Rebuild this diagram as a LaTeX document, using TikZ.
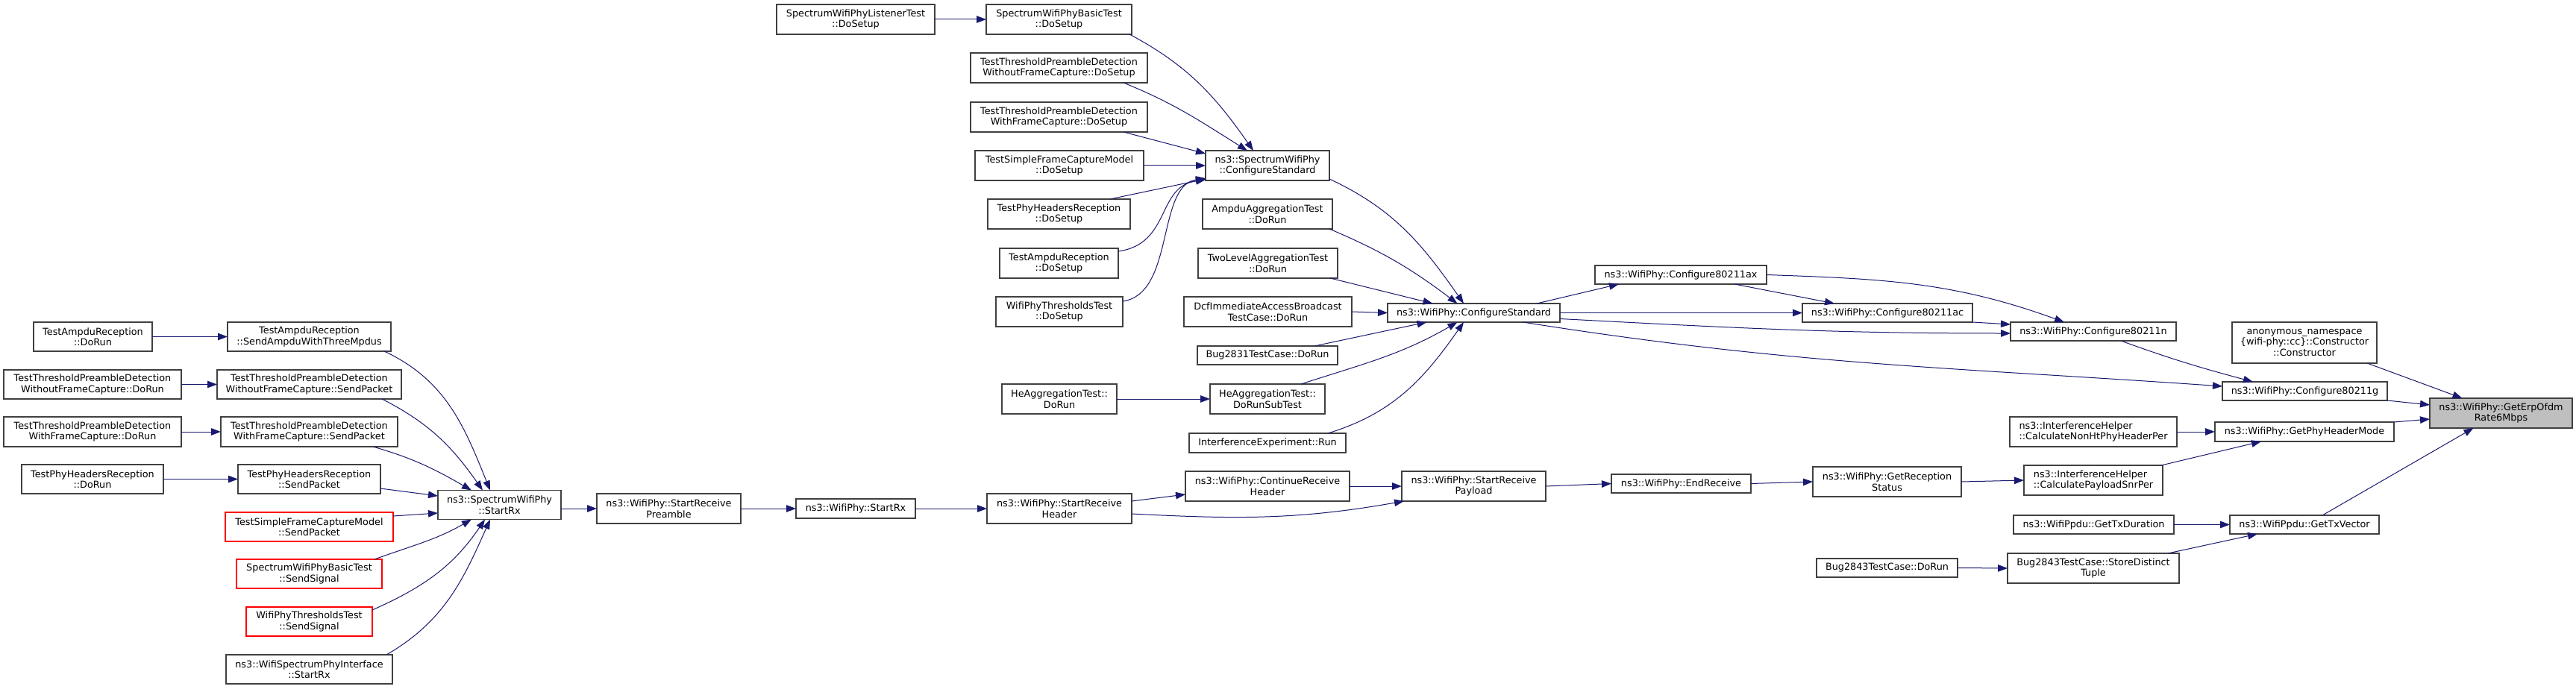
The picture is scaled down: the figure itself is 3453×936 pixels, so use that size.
\documentclass[tikz,border=0pt]{standalone}
\usepackage{fontspec}
\setmainfont{DejaVu Sans}
\usepackage{xcolor}
\definecolor{EdgeBlue}{HTML}{191970}
\definecolor{BoxGray}{HTML}{404040}
\definecolor{BoxRed}{HTML}{FF0000}
\definecolor{RootFill}{HTML}{BFBFBF}
\usepackage{tikz}
\usetikzlibrary{arrows.meta}

\tikzset{
  fn/.style={draw=BoxGray, line width=1.3pt, fill=white, inner sep=0pt, outer sep=0pt,
    align=center, text=black, font=\fontsize{12.8}{14.5}\selectfont},
  fnred/.style={fn, draw=BoxRed},
  fnroot/.style={fn, fill=RootFill},
  wh/.style 2 args={minimum width=#1pt, minimum height=#2pt},
  callarrow/.style={draw=EdgeBlue, line width=1pt, -{Triangle[length=13pt,width=9.5pt]}}
}

\begin{document}
\begin{tikzpicture}[x=1pt,y=1pt]
  \fill[white] (0,0) rectangle (3453,-936);
  \useasboundingbox (0,0) rectangle (3453,-936);

  % callers of SpectrumWifiPhy::StartRx
  \node[fn, wh={159}{39}] (tarDoRun) at (124.5,-451.5) {TestAmpduReception\\::DoRun};
  \node[fn, wh={238}{39}] (ttpdwoDoRun) at (124,-515.5) {TestThresholdPreambleDetection\\WithoutFrameCapture::DoRun};
  \node[fn, wh={238}{40}] (ttpdwDoRun) at (124,-579) {TestThresholdPreambleDetection\\WithFrameCapture::DoRun};
  \node[fn, wh={190}{39}] (tphrDoRun) at (124,-642.5) {TestPhyHeadersReception\\::DoRun};

  \node[fn, wh={219}{39}] (tarSend) at (414.5,-451.5) {TestAmpduReception\\::SendAmpduWithThreeMpdus};
  \node[fn, wh={247}{39}] (ttpdwoSend) at (414.5,-515.5) {TestThresholdPreambleDetection\\WithoutFrameCapture::SendPacket};
  \node[fn, wh={237}{40}] (ttpdwSend) at (414.5,-579) {TestThresholdPreambleDetection\\WithFrameCapture::SendPacket};
  \node[fn, wh={191}{39}] (tphrSend) at (414.5,-642.5) {TestPhyHeadersReception\\::SendPacket};
  \node[fnred, wh={225}{39}] (tsfcmSend) at (414.5,-706.5) {TestSimpleFrameCaptureModel\\::SendPacket};
  \node[fnred, wh={195}{39}] (swpbtSend) at (414.5,-769.5) {SpectrumWifiPhyBasicTest\\::SendSignal};
  \node[fnred, wh={169}{39}] (wpttSend) at (414.5,-833.5) {WifiPhyThresholdsTest\\::SendSignal};
  \node[fn, wh={223}{39}] (wspiStartRx) at (414.5,-897.5) {ns3::WifiSpectrumPhyInterface\\::StartRx};

  % receive chain
  \node[fn, wh={165}{39}] (swpStartRx) at (669.5,-677) {ns3::SpectrumWifiPhy\\::StartRx};
  \node[fn, wh={193}{40}] (rxPreamble) at (896.5,-682) {ns3::WifiPhy::StartReceive\\Preamble};
  \node[fn, wh={160}{26}] (wpStartRx) at (1147,-682) {ns3::WifiPhy::StartRx};
  \node[fn, wh={194}{40}] (rxHeader) at (1420,-682) {ns3::WifiPhy::StartReceive\\Header};
  \node[fn, wh={220}{40}] (contRxHeader) at (1699,-652) {ns3::WifiPhy::ContinueReceive\\Header};
  \node[fn, wh={193}{40}] (rxPayload) at (1975.5,-652) {ns3::WifiPhy::StartReceive\\Payload};
  \node[fn, wh={187}{25}] (endReceive) at (2253.5,-648.5) {ns3::WifiPhy::EndReceive};
  \node[fn, wh={199}{40}] (rxStatus) at (2529.5,-646) {ns3::WifiPhy::GetReception\\Status};
  \node[fn, align=left, wh={186}{40}] (calcPayload) at (2806,-644) {ns3::InterferenceHelper\\::CalculatePayloadSnrPer};
  \node[fn, align=left, wh={224}{40}] (calcNonHt) at (2806,-579) {ns3::InterferenceHelper\\::CalculateNonHtPhyHeaderPer};
  \node[fn, wh={240}{26}] (phyHeaderMode) at (3089,-579) {ns3::WifiPhy::GetPhyHeaderMode};
  \node[fn, wh={215}{25}] (txDuration) at (2806.5,-703.5) {ns3::WifiPpdu::GetTxDuration};
  \node[fn, wh={200}{25}] (txVector) at (3089,-703.5) {ns3::WifiPpdu::GetTxVector};
  \node[fn, wh={189}{25}] (bug2843DoRun) at (2529.5,-761.5) {Bug2843TestCase::DoRun};
  \node[fn, wh={230}{40}] (storeTuple) at (2806,-762) {Bug2843TestCase::StoreDistinct\\Tuple};
  \node[fn, wh={221}{25}] (cfg11g) at (3089.5,-524.5) {ns3::WifiPhy::Configure80211g};
  \node[fn, wh={194}{55}] (anonCtor) at (3089,-459.5) {anonymous\_namespace\\\{wifi-phy::cc\}::Constructor\\::Constructor};
  \node[fnroot, wh={191}{40}] (erpRate) at (3352.5,-554) {ns3::WifiPhy::GetErpOfdm\\Rate6Mbps};

  % configure standard
  \node[fn, wh={231}{25}] (cfgStd) at (1975.5,-419.5) {ns3::WifiPhy::ConfigureStandard};
  \node[fn, wh={230}{25}] (cfg11ax) at (2253,-368.5) {ns3::WifiPhy::Configure80211ax};
  \node[fn, wh={228}{25}] (cfg11ac) at (2530,-419.5) {ns3::WifiPhy::Configure80211ac};
  \node[fn, wh={222}{25}] (cfg11n) at (2806,-444.5) {ns3::WifiPhy::Configure80211n};
  \node[fn, wh={166}{40}] (swpCfgStd) at (1699,-222) {ns3::SpectrumWifiPhy\\::ConfigureStandard};
  \node[fn, wh={174}{40}] (ampduAgg) at (1699,-287) {AmpduAggregationTest\\::DoRun};
  \node[fn, wh={187}{40}] (twoLevel) at (1699.5,-353) {TwoLevelAggregationTest\\::DoRun};
  \node[fn, wh={225}{40}] (dcfBroadcast) at (1699.5,-418) {DcfImmediateAccessBroadcast\\TestCase::DoRun};
  \node[fn, wh={188}{25}] (bug2831) at (1699,-476.5) {Bug2831TestCase::DoRun};
  \node[fn, wh={154}{40}] (heSubTest) at (1699,-535) {HeAggregationTest::\\DoRunSubTest};
  \node[fn, wh={210}{26}] (interfExp) at (1699,-594) {InterferenceExperiment::Run};
  \node[fn, wh={154}{40}] (heDoRun) at (1420,-535) {HeAggregationTest::\\DoRun};

  \node[fn, wh={212}{40}] (listenerSetup) at (1147,-26) {SpectrumWifiPhyListenerTest\\::DoSetup};
  \node[fn, wh={195}{40}] (basicSetup) at (1419.5,-26) {SpectrumWifiPhyBasicTest\\::DoSetup};
  \node[fn, wh={237}{40}] (ttpdwoSetup) at (1419.5,-91) {TestThresholdPreambleDetection\\WithoutFrameCapture::DoSetup};
  \node[fn, wh={237}{40}] (ttpdwSetup) at (1419.5,-157) {TestThresholdPreambleDetection\\WithFrameCapture::DoSetup};
  \node[fn, wh={226}{40}] (tsfcmSetup) at (1420,-222) {TestSimpleFrameCaptureModel\\::DoSetup};
  \node[fn, wh={191}{40}] (tphrSetup) at (1419.5,-287) {TestPhyHeadersReception\\::DoSetup};
  \node[fn, wh={159}{40}] (tarSetup) at (1419.5,-353) {TestAmpduReception\\::DoSetup};
  \node[fn, wh={170}{40}] (wpttSetup) at (1420,-418) {WifiPhyThresholdsTest\\::DoSetup};

  % edges, left part
  \draw[callarrow] (tarDoRun.east) -- (tarSend.west);
  \draw[callarrow] (ttpdwoDoRun.east) -- (ttpdwoSend.west);
  \draw[callarrow] (ttpdwDoRun.east) -- (ttpdwSend.west);
  \draw[callarrow] (tphrDoRun.east) -- (tphrSend.west);

  \draw[callarrow] ([xshift=-9pt]tarSend.south east) to[out=-25,in=112] ([xshift=-12.5pt]swpStartRx.north);
  \draw[callarrow] ([xshift=-26pt]ttpdwoSend.south east) to[out=-27,in=125] ([xshift=-22.5pt]swpStartRx.north);
  \draw[callarrow] ([xshift=-33pt]ttpdwSend.south east) to[out=-16,in=150] ([xshift=-37.5pt]swpStartRx.north);
  \draw[callarrow] ([yshift=-12.5pt]tphrSend.east) -- ([yshift=12pt]swpStartRx.west);
  \draw[callarrow] ([yshift=14.5pt]tsfcmSend.east) -- ([yshift=-11pt]swpStartRx.west);
  \draw[callarrow] ([xshift=-10pt]swpbtSend.north east) to[out=20,in=-150] ([xshift=-37.5pt]swpStartRx.south);
  \draw[callarrow] ([yshift=-4pt]wpttSend.north east) to[out=24,in=-124] ([xshift=-19.5pt]swpStartRx.south);
  \draw[callarrow] ([xshift=-8pt]wspiStartRx.north east) to[out=30,in=-114] ([xshift=-12.5pt]swpStartRx.south);

  \draw[callarrow] ([yshift=-5pt]swpStartRx.east) -- (rxPreamble.west);
  \draw[callarrow] (rxPreamble.east) -- (wpStartRx.west);
  \draw[callarrow] (wpStartRx.east) -- (rxHeader.west);
  \draw[callarrow] ([yshift=10pt]rxHeader.east) -- ([yshift=-11pt]contRxHeader.west);
  \draw[callarrow] ([yshift=-7pt]rxHeader.east) to[out=-3,in=-170] ([xshift=3pt]rxPayload.south west);
  \draw[callarrow] (contRxHeader.east) -- (rxPayload.west);
  \draw[callarrow] (rxPayload.east) -- (endReceive.west);
  \draw[callarrow] (endReceive.east) -- (rxStatus.west);
  \draw[callarrow] (rxStatus.east) -- (calcPayload.west);
  \draw[callarrow] ([xshift=-2pt]calcPayload.north east) -- ([xshift=-58pt]phyHeaderMode.south);
  \draw[callarrow] (calcNonHt.east) -- (phyHeaderMode.west);
  \draw[callarrow] (phyHeaderMode.north east) -- ([yshift=-8pt]erpRate.west);
  \draw[callarrow] (cfg11g.south east) -- ([yshift=11pt]erpRate.west);
  \draw[callarrow] ([xshift=84pt]anonCtor.south) -- ([xshift=-52pt]erpRate.north);
  \draw[callarrow] ([xshift=24pt]txVector.north) -- ([xshift=-37pt]erpRate.south);
  \draw[callarrow] (txDuration.east) -- (txVector.west);
  \draw[callarrow] ([xshift=-15pt]storeTuple.north east) -- ([xshift=-63pt]txVector.south);
  \draw[callarrow] (bug2843DoRun.east) -- (storeTuple.west);

  % edges, configure part
  \draw[callarrow] ([yshift=2pt]swpCfgStd.south east) to[out=-25,in=125] ([xshift=-13.5pt]cfgStd.north);
  \draw[callarrow] ([xshift=-4pt]ampduAgg.south east) to[out=-23,in=143] ([xshift=-22pt]cfgStd.north);
  \draw[callarrow] ([xshift=-10pt]twoLevel.south east) -- ([xshift=-55pt]cfgStd.north);
  \draw[callarrow] (dcfBroadcast.east) -- (cfgStd.west);
  \draw[callarrow] ([xshift=63pt]bug2831.north) -- ([xshift=-63pt]cfgStd.south);
  \draw[callarrow] ([xshift=45pt]heSubTest.north) to[out=18,in=-150] ([xshift=-22pt]cfgStd.south);
  \draw[callarrow] ([xshift=81pt]interfExp.north) to[out=17,in=-125] ([xshift=-13.5pt]cfgStd.south);
  \draw[callarrow] (heDoRun.east) -- (heSubTest.west);

  \draw[callarrow] (listenerSetup.east) -- (basicSetup.west);
  \draw[callarrow] ([xshift=-3pt]basicSetup.south east) to[out=-28,in=125] ([xshift=-19pt]swpCfgStd.north);
  \draw[callarrow] ([xshift=-32pt]ttpdwoSetup.south east) to[out=-22,in=148] ([xshift=-27pt]swpCfgStd.north);
  \draw[callarrow] ([xshift=-32pt]ttpdwSetup.south east) -- ([yshift=-4pt]swpCfgStd.north west);
  \draw[callarrow] (tsfcmSetup.east) -- (swpCfgStd.west);
  \draw[callarrow] ([xshift=-27pt]tphrSetup.north east) -- ([yshift=2pt]swpCfgStd.south west);
  \draw[callarrow] ([yshift=-4pt]tarSetup.north east) .. controls +(71,10) and +(-66,-9) .. ([yshift=1pt]swpCfgStd.south west);
  \draw[callarrow] ([yshift=-6pt]wpttSetup.north east) .. controls +(70,10) and +(-66,-10) .. ([yshift=3pt]swpCfgStd.south west);

  \draw[callarrow] ([xshift=84.5pt]cfgStd.north) -- ([xshift=-83pt]cfg11ax.south);
  \draw[callarrow] (cfgStd.east) -- (cfg11ac.west);
  \draw[callarrow] ([yshift=-8pt]cfgStd.east) to[out=-3,in=180] ([yshift=-2.5pt]cfg11n.west);
  \draw[callarrow] ([xshift=66pt]cfgStd.south) to[out=-9,in=176] ([yshift=6.5pt]cfg11g.west);
  \draw[callarrow] ([xshift=72pt]cfg11ax.south) -- ([xshift=-71pt]cfg11ac.north);
  \draw[callarrow] (cfg11ac.south east) -- ([yshift=-3pt]cfg11n.north west);
  \draw[callarrow] (cfg11ax.east) to[out=-2,in=160] ([xshift=-39pt]cfg11n.north);
  \draw[callarrow] ([xshift=37pt]cfg11n.south) to[out=-20,in=165] ([xshift=-69.5pt]cfg11g.north);
\end{tikzpicture}
\end{document}
